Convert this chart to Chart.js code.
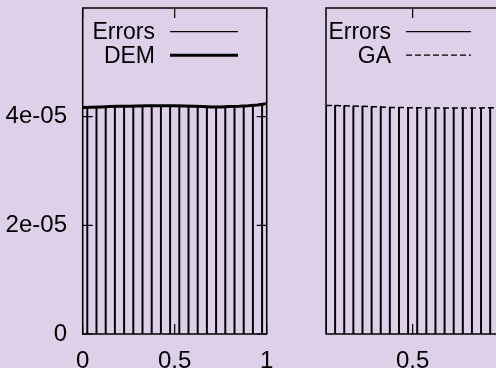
<!DOCTYPE html>
<html>
<head>
<meta charset="utf-8">
<script src="https://cdn.jsdelivr.net/npm/chart.js@4.4.0/dist/chart.umd.min.js"></script>
<style>
  html, body { margin: 0; padding: 0; width: 496px; height: 368px; overflow: hidden; background: #ddd0e8; }
  canvas { position: absolute; top: 0; }
  #left { left: 0; }
  #right { left: 290px; }
</style>
</head>
<body>
<canvas id="left" width="290" height="368"></canvas>
<canvas id="right" width="230" height="368"></canvas>
<script>
// impulse positions (cell midpoints)
const errX = [0.025, 0.075, 0.125, 0.175, 0.225, 0.275, 0.325, 0.375, 0.425, 0.475,
              0.525, 0.575, 0.625, 0.675, 0.725, 0.775, 0.825, 0.875, 0.925, 0.975];
// DEM curve nodes
const demX = [0, 0.05, 0.1, 0.15, 0.2, 0.25, 0.3, 0.35, 0.4, 0.45, 0.5,
              0.55, 0.6, 0.65, 0.7, 0.75, 0.8, 0.85, 0.9, 0.95, 1];
const demVals = [4.17e-5, 4.175e-5, 4.18e-5, 4.185e-5, 4.19e-5, 4.19e-5, 4.195e-5, 4.2e-5, 4.2e-5, 4.2e-5, 4.2e-5,
                 4.195e-5, 4.19e-5, 4.185e-5, 4.18e-5, 4.18e-5, 4.185e-5, 4.19e-5, 4.2e-5, 4.215e-5, 4.24e-5];
const errLeft = [4.17e-5, 4.18e-5, 4.18e-5, 4.19e-5, 4.19e-5, 4.19e-5, 4.2e-5, 4.2e-5, 4.2e-5, 4.2e-5,
                 4.2e-5, 4.19e-5, 4.19e-5, 4.18e-5, 4.18e-5, 4.18e-5, 4.19e-5, 4.19e-5, 4.2e-5, 4.22e-5];
const gaVals = [4.207e-5, 4.207e-5, 4.2e-5, 4.196e-5, 4.19e-5, 4.184e-5, 4.18e-5, 4.17e-5, 4.17e-5, 4.165e-5,
                4.165e-5, 4.16e-5, 4.16e-5, 4.16e-5, 4.16e-5, 4.16e-5, 4.16e-5, 4.16e-5, 4.165e-5, 4.165e-5];
const errRight = gaVals.slice();

const yTicks = [0, 2e-5, 4e-5];
const yTickLabels = ['0', '2e-05', '4e-05'];
const leftXTicks = [0, 0.5, 1];
const leftXLabels = ['0', '0.5', '1'];
const rightXTicks = [0.5];
const rightXLabels = ['0.5'];

const FAMILY = "'Liberation Sans', Arial, sans-serif";
const KEY_FONT = { family: FAMILY, size: 23 };
const TICK_FONT = { family: FAMILY, size: 24 };

// gnuplot-like frame, inward ticks and key
const framePlugin = {
  id: 'frame',
  afterDraw(chart, args, opts) {
    const ctx = chart.ctx;
    const a = chart.chartArea;
    const xs = chart.scales.x, ys = chart.scales.y;
    ctx.save();
    ctx.strokeStyle = '#000';
    ctx.lineWidth = 1.5;
    ctx.strokeRect(a.left, a.top, a.right - a.left, a.bottom - a.top);
    ctx.lineWidth = 1.2;
    ctx.beginPath();
    opts.xTicks.forEach(v => {
      const px = xs.getPixelForValue(v);
      ctx.moveTo(px, a.bottom); ctx.lineTo(px, a.bottom - 10);
      ctx.moveTo(px, a.top); ctx.lineTo(px, a.top + 10);
    });
    if (opts.yMarks) {
      yTicks.forEach(v => {
        const py = ys.getPixelForValue(v);
        ctx.moveTo(a.left, py); ctx.lineTo(a.left + 10, py);
        ctx.moveTo(a.right, py); ctx.lineTo(a.right - 10, py);
      });
    }
    ctx.stroke();
    // key
    ctx.font = KEY_FONT.size + 'px ' + KEY_FONT.family;
    ctx.fillStyle = '#000';
    ctx.textAlign = 'right';
    ctx.textBaseline = 'middle';
    opts.key.forEach((k, i) => {
      const y = 31.7 + i * 23.5;
      ctx.fillText(k.label, opts.textRight, y + 1);
      ctx.beginPath();
      ctx.lineWidth = k.width;
      ctx.setLineDash(k.dash || []);
      ctx.moveTo(opts.x1, y); ctx.lineTo(opts.x2, y);
      ctx.stroke();
      ctx.setLineDash([]);
    });
    ctx.restore();
  }
};

function makeChart(id, cfg) {
  const ctx = document.getElementById(id).getContext('2d');
  return new Chart(ctx, {
    data: {
      datasets: [{
        type: 'line',
        order: 0,
        data: cfg.lineX.map((x, i) => ({ x: x, y: cfg.lineY[i] })),
        borderColor: '#000',
        borderWidth: cfg.lineWidth,
        borderDash: cfg.dash,
        pointRadius: 0,
        tension: 0
      }, {
        type: 'bar',
        order: 1,
        data: errX.map((x, i) => ({ x: x, y: cfg.err[i] })),
        backgroundColor: '#000',
        borderWidth: 0,
        barThickness: 1.3
      }]
    },
    options: {
      responsive: false,
      animation: false,
      devicePixelRatio: 1,
      layout: { padding: cfg.padding },
      plugins: {
        legend: { display: false },
        tooltip: { enabled: false },
        frame: cfg.frame
      },
      scales: {
        x: {
          type: 'linear',
          min: cfg.xMin, max: cfg.xMax,
          offset: false,
          grid: { display: false, drawTicks: false },
          border: { display: false },
          ticks: {
            font: TICK_FONT, color: '#000', padding: 12.5, maxRotation: 0, autoSkip: false,
            callback: (v, i) => cfg.xLabels[i]
          },
          afterBuildTicks: s => { s.ticks = cfg.xTicks.map(v => ({ value: v })); },
          afterFit: s => { s.height = 34; s.paddingLeft = 0; s.paddingRight = 0; }
        },
        y: {
          type: 'linear',
          min: 0, max: 6e-5,
          grid: { display: false, drawTicks: false },
          border: { display: false },
          ticks: {
            display: cfg.yLabels,
            font: TICK_FONT, color: '#000', padding: 15.7,
            callback: (v, i) => yTickLabels[i]
          },
          afterBuildTicks: s => { s.ticks = yTicks.map(v => ({ value: v })); },
          afterFit: s => { s.width = cfg.yWidth; s.paddingTop = 0; s.paddingBottom = 0; }
        }
      }
    },
    plugins: [framePlugin]
  });
}

makeChart('left', {
  lineX: demX, lineY: demVals, lineWidth: 3, dash: [],
  err: errLeft,
  xMin: 0, xMax: 1, xTicks: leftXTicks, xLabels: leftXLabels,
  yLabels: true, yWidth: 82.7,
  padding: { top: 8, right: 23.3, left: 0, bottom: 0 },
  frame: {
    xTicks: leftXTicks, yMarks: true,
    textRight: 155, x1: 170, x2: 238,
    key: [{ label: 'Errors', width: 1.2 }, { label: 'DEM', width: 3 }]
  }
});

makeChart('right', {
  lineX: errX, lineY: gaVals, lineWidth: 1.5, dash: [6, 3],
  err: errRight,
  xMin: 0.025, xMax: 0.975, xTicks: rightXTicks, xLabels: rightXLabels,
  yLabels: false, yWidth: 36,
  padding: { top: 8, right: 20.7, left: 0, bottom: 0 },
  frame: {
    xTicks: rightXTicks, yMarks: false,
    textRight: 101, x1: 116, x2: 181,
    key: [{ label: 'Errors', width: 1.2 }, { label: 'GA', width: 1.3, dash: [6, 3] }]
  }
});
</script>
</body>
</html>
